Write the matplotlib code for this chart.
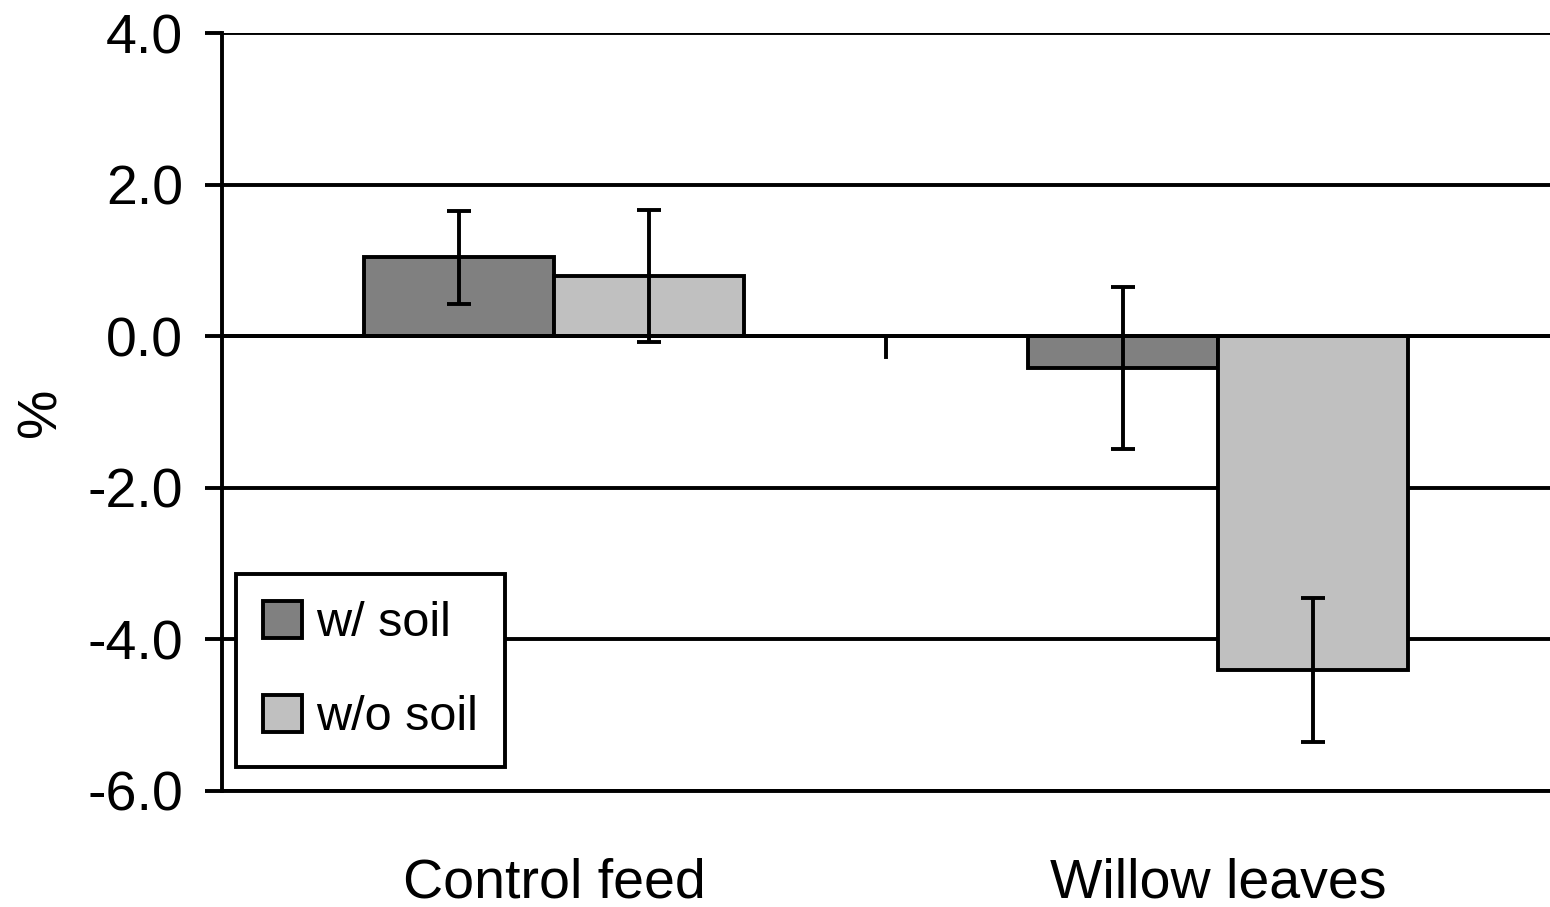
import numpy as np
import matplotlib
matplotlib.use("Agg")
import matplotlib.pyplot as plt

categories = ["Control feed", "Willow leaves"]
series = ["w/ soil", "w/o soil"]
with_soil = [1.04, -0.42]
with_soil_err = [0.61, 1.07]
without_soil = [0.80, -4.41]
without_soil_err = [0.87, 0.95]
colors = ["#808080", "#c0c0c0"]

plt.rcParams['font.family'] = ['Liberation Sans Narrow', 'Liberation Sans', 'DejaVu Sans']

fig = plt.figure(figsize=(15.5, 9.07), dpi=100)
ax = fig.add_axes([222 / 1550, 1 - 791 / 907, 1 - 222 / 1550, (791 - 33) / 907])

x = np.arange(len(categories))
w = 0.286
lw = 2.8
for i, (vals, errs) in enumerate([(with_soil, with_soil_err), (without_soil, without_soil_err)]):
    pos = x + (i - 0.5) * w
    ax.bar(pos, vals, w, color=colors[i], edgecolor="black", linewidth=lw,
           label=series[i], zorder=3)
    ax.errorbar(pos, vals, yerr=errs, fmt="none", ecolor="black",
                elinewidth=lw, capsize=8.5, capthick=lw, zorder=4)

ax.set_xlim(-0.5, 1.5)
ax.set_ylim(-6, 4)
ax.set_yticks(np.arange(-6, 5, 2))
ax.set_yticklabels([f"{v:.1f}" for v in np.arange(-6, 5, 2)])
ax.yaxis.grid(True, color="black", linewidth=lw, zorder=1)
ax.axhline(0, color="black", linewidth=lw, zorder=5)
# category boundary tick on the zero line
ax.plot([0.5, 0.5], [0, -0.27], color="black", linewidth=lw, zorder=5)

ax.set_xticks(x)
ax.set_xticklabels(categories)
ax.tick_params(axis="x", length=0, pad=48, labelsize=40)
ax.tick_params(axis="y", length=12, width=lw, pad=16, labelsize=40)

for s in ["top", "right"]:
    ax.spines[s].set_visible(False)
ax.spines["left"].set_linewidth(lw)
ax.spines["bottom"].set_linewidth(lw)

ax.set_ylabel("%", fontsize=40, labelpad=14)

leg = ax.legend(loc="lower left", bbox_to_anchor=(14 / 1328, 24 / 758), fontsize=35,
                frameon=True, fancybox=False, edgecolor="black", framealpha=1,
                handlelength=0.8, handleheight=0.8, handletextpad=0.3,
                labelspacing=1.0, borderpad=0.55, borderaxespad=0)
leg.get_frame().set_linewidth(lw)
leg.set_zorder(6)

fig.savefig("out.png", dpi=100)
